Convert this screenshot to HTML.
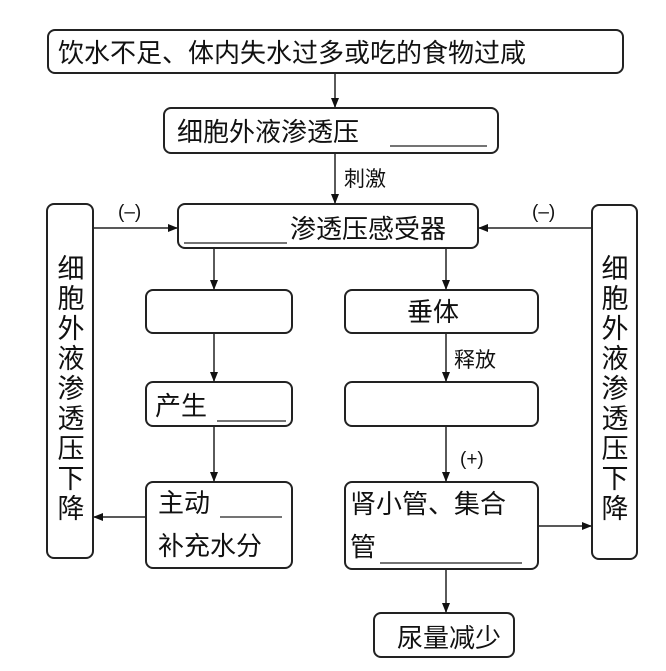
<!DOCTYPE html>
<html><head><meta charset="utf-8"><style>
html,body{margin:0;padding:0;background:#fff;}
svg{display:block;}
text{font-family:"Liberation Sans","Noto Sans CJK SC",sans-serif;fill:#111;}
</style></head><body>
<svg width="666" height="671" viewBox="0 0 666 671" xmlns="http://www.w3.org/2000/svg">
<defs><marker id="a" markerWidth="10" markerHeight="8" refX="9" refY="4" orient="auto" markerUnits="userSpaceOnUse"><path d="M0,0 L10,4 L0,8 Z" fill="#111"/></marker></defs>
<g fill="none" stroke="#222" stroke-width="2">
<rect x="48" y="30" width="575" height="43" rx="7"/>
<rect x="164" y="108" width="334" height="45" rx="7"/>
<rect x="178" y="204" width="300" height="44" rx="7"/>
<rect x="47" y="204" width="46" height="354" rx="7"/>
<rect x="592" y="205" width="45" height="354" rx="7"/>
<rect x="146" y="290" width="146" height="43" rx="7"/>
<rect x="146" y="382" width="146" height="44" rx="7"/>
<rect x="146" y="482" width="146" height="86" rx="7"/>
<rect x="345" y="290" width="193" height="43" rx="7"/>
<rect x="345" y="382" width="193" height="44" rx="7"/>
<rect x="345" y="482" width="193" height="87" rx="7"/>
<rect x="374" y="613" width="140" height="44" rx="7"/>
</g>
<g stroke="#222" stroke-width="1.5" marker-end="url(#a)">
<line x1="335" y1="73" x2="335" y2="107"/>
<line x1="335" y1="153" x2="335" y2="203"/>
<line x1="93" y1="228" x2="177" y2="228"/>
<line x1="592" y1="228" x2="479" y2="228"/>
<line x1="214" y1="248" x2="214" y2="289"/>
<line x1="214" y1="333" x2="214" y2="381"/>
<line x1="214" y1="426" x2="214" y2="481"/>
<line x1="446" y1="248" x2="446" y2="289"/>
<line x1="446" y1="333" x2="446" y2="381"/>
<line x1="446" y1="426" x2="446" y2="481"/>
<line x1="446" y1="569" x2="446" y2="612"/>
<line x1="146" y1="517" x2="94" y2="517"/>
<line x1="538" y1="526" x2="591" y2="526"/>
</g>
<g stroke="#222" stroke-width="1.2">
<line x1="390" y1="146" x2="487" y2="146"/>
<line x1="184" y1="243" x2="287" y2="243"/>
<line x1="217" y1="421" x2="286" y2="421"/>
<line x1="220" y1="517" x2="282" y2="517"/>
<line x1="380" y1="563" x2="522" y2="563"/>
</g>
<text x="58" y="62" font-size="26">饮水不足、体内失水过多或吃的食物过咸</text>
<text x="177" y="141" font-size="26">细胞外液渗透压</text>
<text x="344" y="186" font-size="21">刺激</text>
<text x="118" y="218" font-size="19">(–)</text>
<text x="532" y="218" font-size="19">(–)</text>
<text x="290" y="238" font-size="26">渗透压感受器</text>
<text x="407" y="321" font-size="26">垂体</text>
<text x="454" y="367" font-size="21">释放</text>
<text x="155" y="415" font-size="26">产生</text>
<text x="460" y="465" font-size="19">(+)</text>
<text x="158" y="512" font-size="26">主动</text>
<text x="158" y="555" font-size="26">补充水分</text>
<text x="350" y="513" font-size="26">肾小管、集合</text>
<text x="350" y="556" font-size="26">管</text>
<text x="397" y="647" font-size="26">尿量减少</text>
<g font-size="27" text-anchor="middle">
<text x="71" y="278">细</text><text x="71" y="308">胞</text><text x="71" y="338">外</text><text x="71" y="368">液</text><text x="71" y="398">渗</text><text x="71" y="428">透</text><text x="71" y="458">压</text><text x="71" y="488">下</text><text x="71" y="518">降</text>
<text x="615" y="278">细</text><text x="615" y="308">胞</text><text x="615" y="338">外</text><text x="615" y="368">液</text><text x="615" y="398">渗</text><text x="615" y="428">透</text><text x="615" y="458">压</text><text x="615" y="488">下</text><text x="615" y="518">降</text>
</g>
</svg>
</body></html>
